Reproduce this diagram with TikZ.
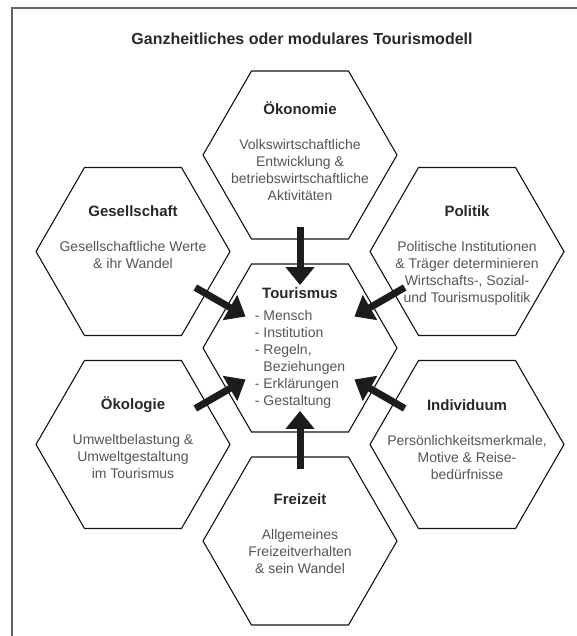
\documentclass[tikz,border=0pt]{standalone}
\usepackage{fontspec}
\setmainfont{Liberation Sans}
\usetikzlibrary{arrows.meta,positioning,calc,shapes.geometric}
\definecolor{hexline}{RGB}{20,20,20}
\definecolor{headgray}{RGB}{40,40,40}
\definecolor{textgray}{RGB}{85,85,85}
\definecolor{framegray}{RGB}{100,100,100}
\definecolor{arrowblack}{RGB}{28,28,28}
\tikzset{
  hexa/.style={draw=hexline, line width=1.1pt, regular polygon, regular polygon sides=6, minimum size=194pt, inner sep=0pt},
  head/.style={font=\fontsize{15}{17}\selectfont\bfseries, text=headgray, inner sep=0pt, text height=10pt, text depth=3pt},
  body/.style={font=\fontsize{14}{17}\selectfont, text=textgray, inner sep=0pt, align=center},
  influx/.style={-{Triangle[length=18pt, width=28pt]}, arrowblack, line width=7pt},
}

\begin{document}
\begin{tikzpicture}[x=1pt, y=-1pt]
  \useasboundingbox (0,0) rectangle (576,636);
  \draw[framegray, line width=2pt] (12,640) -- (12,8) -- (580,8);
  \node[head, font=\fontsize{16}{19}\selectfont\bfseries] (title) at (302,41) {Ganzheitliches oder modulares Tourismodell};

  % Waben
  \node[hexa] (tou) at (300,348) {};
  \node[hexa] (oek) at (300,155) {};
  \node[hexa] (ges) at (133,251.5) {};
  \node[hexa] (pol) at (467,251.5) {};
  \node[hexa] (eko) at (133,444.5) {};
  \node[hexa] (ind) at (467,444.5) {};
  \node[hexa] (frz) at (300,541) {};

  % Texte
  \node[head] (oekh) at (300,111) {Ökonomie};
  \node[body, below=21pt of oekh] (oekb) {Volkswirtschaftliche\\Entwicklung \&\\betriebswirtschaftliche\\Aktivitäten};
  \node[head] (gesh) at (133,213) {Gesellschaft};
  \node[body, below=21pt of gesh] (gesb) {Gesellschaftliche Werte\\\& ihr Wandel};
  \node[head] (polh) at (467,213) {Politik};
  \node[body, below=21pt of polh] (polb) {Politische Institutionen\\\& Träger determinieren\\Wirtschafts-, Sozial-\\und Tourismuspolitik};
  \node[head] (ekoh) at (133,406) {Ökologie};
  \node[body, below=21pt of ekoh] (ekob) {Umweltbelastung \&\\Umweltgestaltung\\im Tourismus};
  \node[head] (indh) at (467,407) {Individuum};
  \node[body, below=21pt of indh] (indb) {Persönlichkeitsmerkmale,\\Motive \& Reise-\\bedürfnisse};
  \node[head] (frzh) at (300,501) {Freizeit};
  \node[body, below=21pt of frzh] (frzb) {Allgemeines\\Freizeitverhalten\\\& sein Wandel};
  \node[head] (touh) at (300,295) {Tourismus};
  \node[body, align=left, below=8pt of touh] (toub) {- Mensch\\- Institution\\- Regeln,\\\hphantom{- }Beziehungen\\- Erklärungen\\- Gestaltung};

  % Einfluesse
  \foreach \n in {oek,ges,pol,eko,ind,frz}
    \draw[influx] ($(tou)!0.627!(\n)$) -- ($(tou)!0.326!(\n)$);
\end{tikzpicture}
\end{document}
